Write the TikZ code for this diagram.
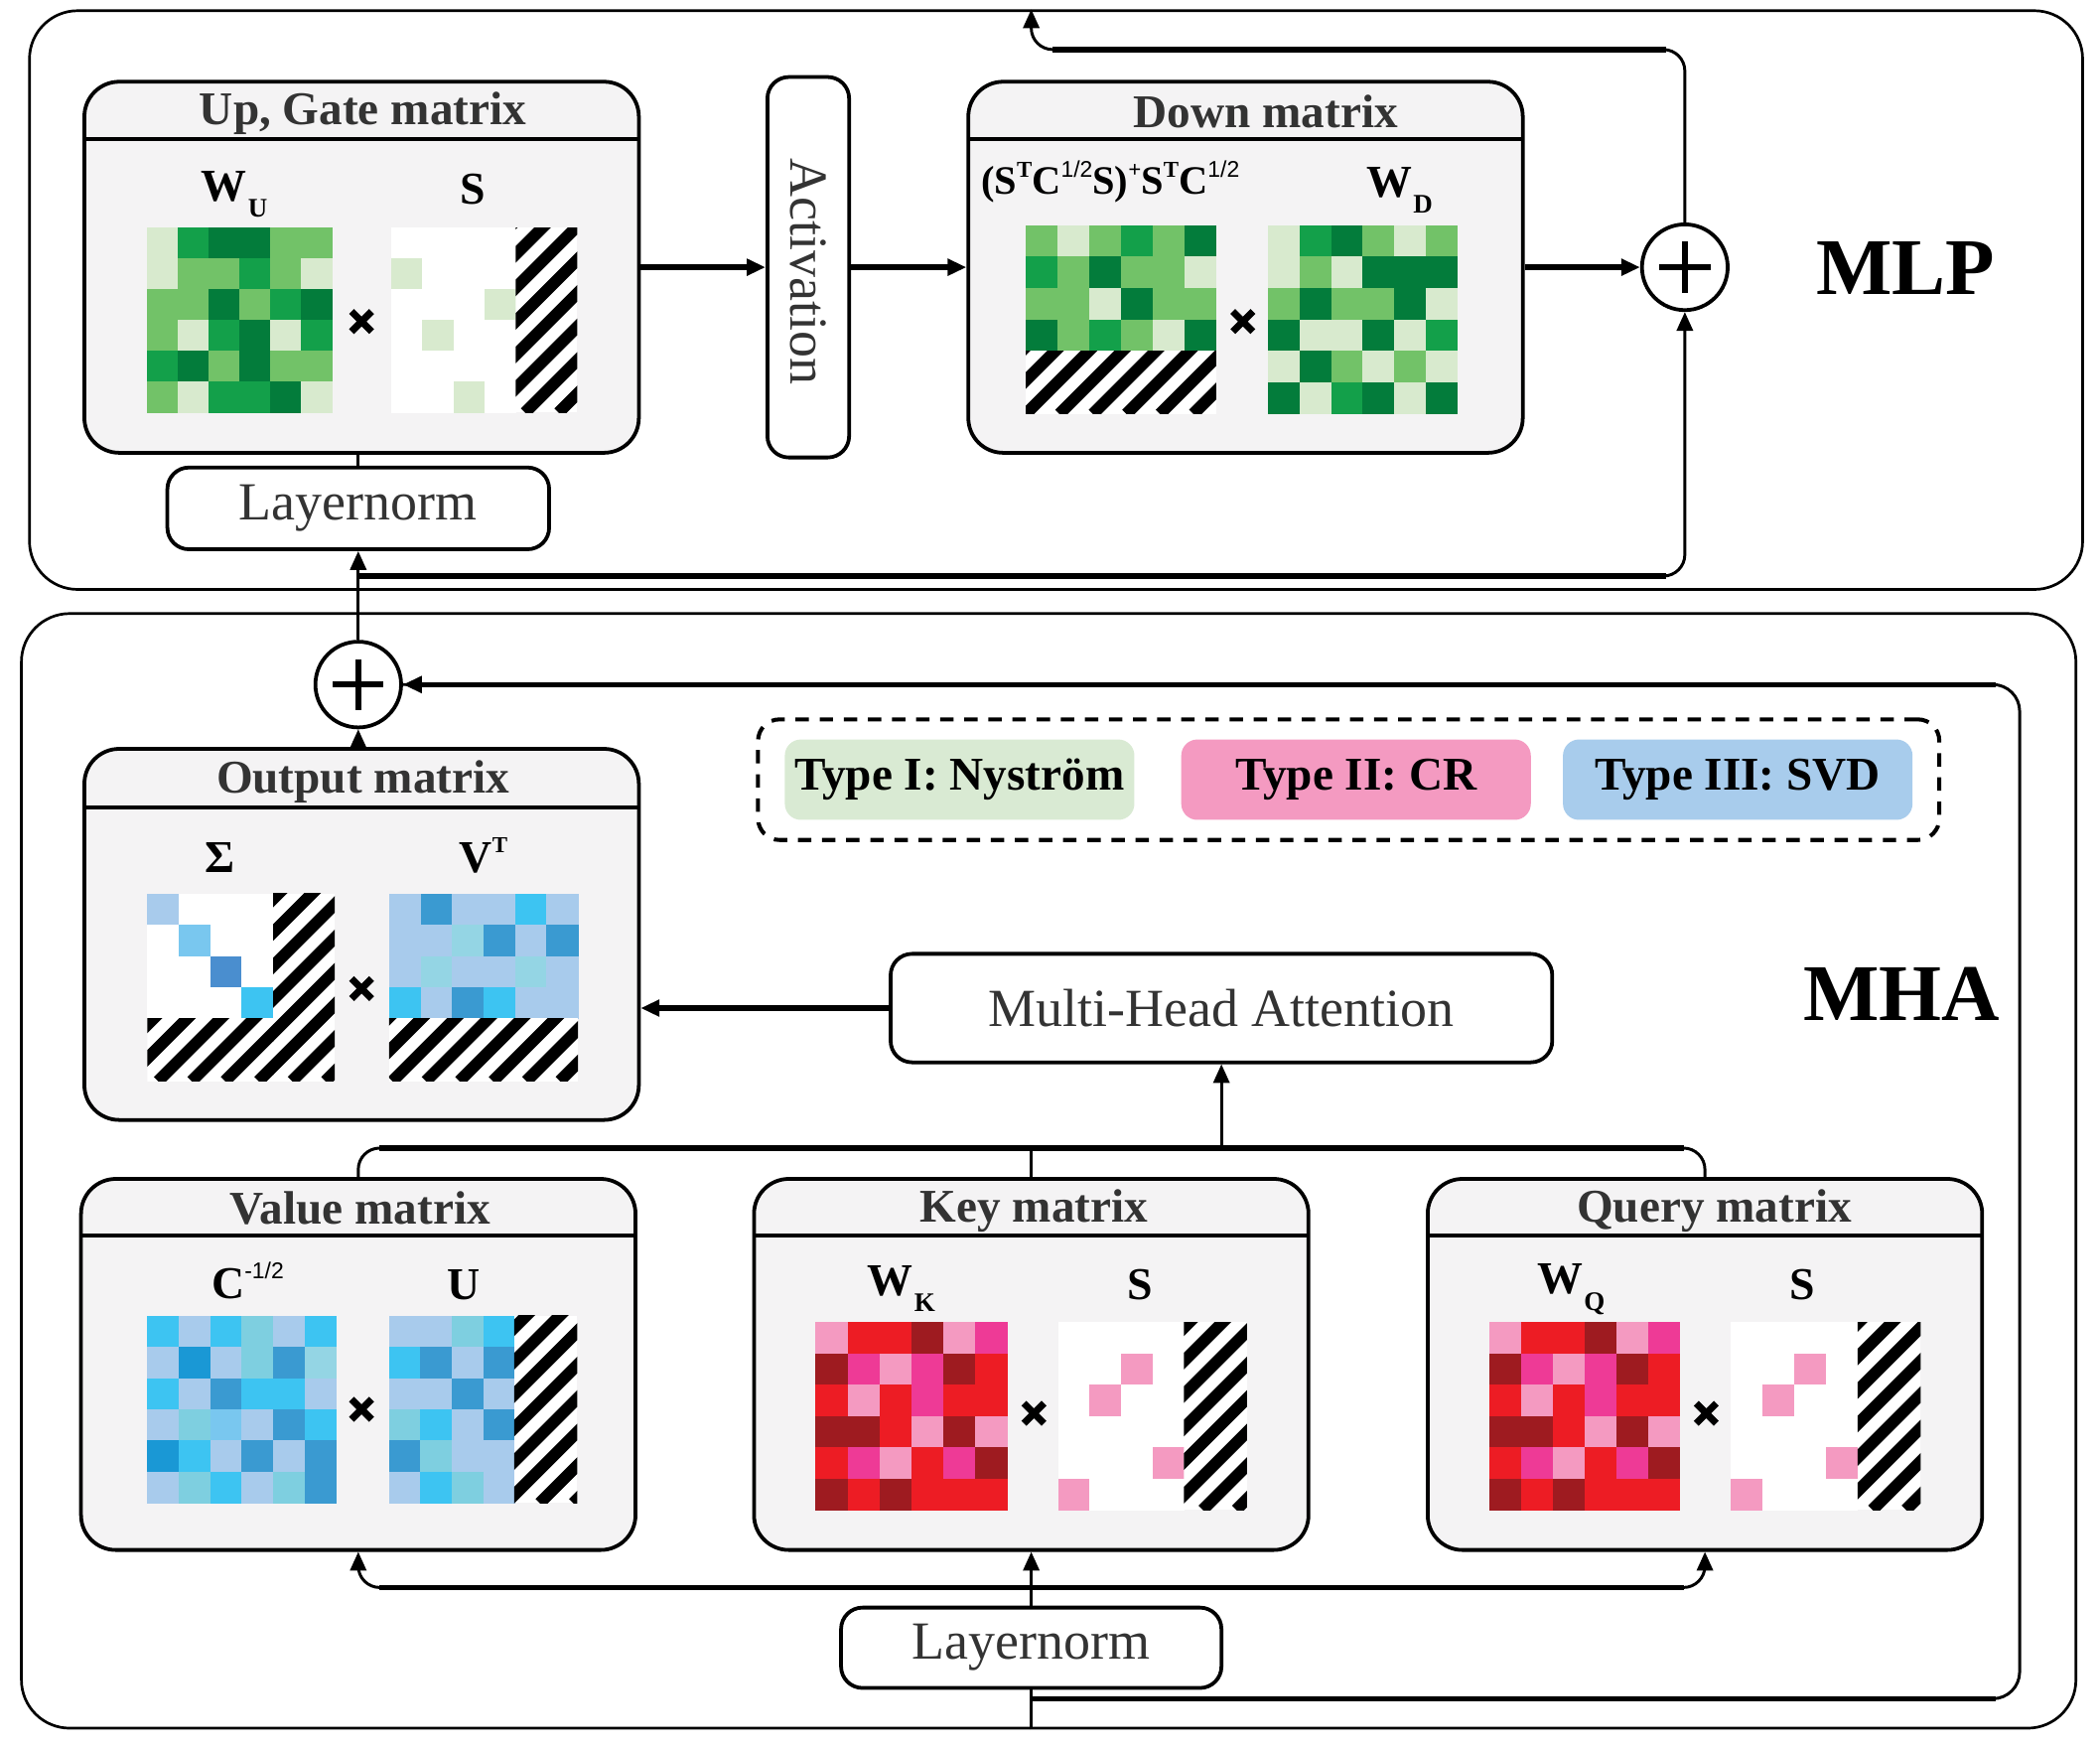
\documentclass[tikz,border=0pt]{standalone}
\usepackage{fontspec}
\setmainfont{Liberation Serif}
\newfontfamily\sansf{Liberation Sans}
\usetikzlibrary{arrows.meta,calc}

\definecolor{boxgray}{HTML}{F4F3F4}
\definecolor{txtgray}{HTML}{333333}
\definecolor{gL}{HTML}{D8EACE}
\definecolor{gM}{HTML}{72C268}
\definecolor{gG}{HTML}{13A04A}
\definecolor{gD}{HTML}{037C3B}
\definecolor{bL}{HTML}{A8CBEC}
\definecolor{bD}{HTML}{1A98D5}
\definecolor{bC}{HTML}{3DC4F2}
\definecolor{bT}{HTML}{7ECFE0}
\definecolor{bTl}{HTML}{94D5E4}
\definecolor{bM}{HTML}{3A9AD1}
\definecolor{bS}{HTML}{79C7EF}
\definecolor{bN}{HTML}{4A8ECF}
\definecolor{rP}{HTML}{F49AC1}
\definecolor{rR}{HTML}{ED1C24}
\definecolor{rD}{HTML}{9E1B20}
\definecolor{rM}{HTML}{EE3A96}
\definecolor{legG}{HTML}{D9EAD3}
\definecolor{legP}{HTML}{F49AC1}
\definecolor{legB}{HTML}{A8CCEC}

\newcommand{\mgrid}[5]{%
  \foreach \rowlist [count=\ri from 0] in {#5} {
    \foreach \cc [count=\ci from 0] in \rowlist {
      \fill[\cc] ({#1+\ci*#3},{#2+\ri*#4}) rectangle ++({#3+0.4},{#4+0.4});
    }
  }}
\newcommand{\hatchrect}[4]{%
  \begin{scope}
    \clip (#1,#2) rectangle (#3,#4);
    \fill[white] (#1,#2) rectangle (#3,#4);
    \pgfmathsetmacro{\hoff}{mod(#1+#4,25)}
    \foreach \hk in {-7,...,8} {\draw[line width=4.4pt] ({#1-\hoff+\hk*25},#4) -- ++(200,-200);}
  \end{scope}}
\newcommand{\mtimes}[2]{\draw[line width=2.6pt] ({#1-7.5},{#2-7.5}) -- ({#1+7.5},{#2+7.5}) ({#1-7.5},{#2+7.5}) -- ({#1+7.5},{#2-7.5});}
\newcommand{\msub}[1]{\kern0.5pt\raisebox{-6pt}{\fontsize{10}{10}\selectfont #1}}
\newcommand{\msup}[1]{\raisebox{0.42em}{\fontsize{8.5}{9}\selectfont #1}}
\newcommand{\mhalf}{{\sansf\mdseries 1/2}}

\tikzset{
  mbox/.style={draw, line width=1.4pt, fill=boxgray, rounded corners=13pt, minimum width=207pt, minimum height=138.5pt, inner sep=0pt},
  wbox/.style={draw, line width=1.4pt, fill=white, rounded corners=8pt, inner sep=0pt, font=\fontsize{20}{24}\selectfont, text=txtgray},
  outer/.style={draw, line width=1pt, rounded corners=18pt, inner sep=0pt},
  ttl/.style={font=\fontsize{17.5}{20}\selectfont\bfseries, text=txtgray, inner sep=0pt},
  lab/.style={font=\fontsize{17}{20}\selectfont\bfseries, inner sep=0pt},
  hconn/.style={line width=2pt},
  vconn/.style={line width=1.1pt},
  arr/.style={-{Triangle[length=7pt,width=6pt]}},
  plusc/.style={circle, draw, line width=1.4pt, fill=white, minimum size=32pt, inner sep=0pt},
  legitem/.style={rounded corners=6pt, minimum width=130.5pt, minimum height=30pt, inner sep=0pt, font=\fontsize{17.5}{20}\selectfont\bfseries},
  big/.style={font=\fontsize{30}{34}\selectfont\bfseries, inner sep=0pt},
}

\begin{document}
\begin{tikzpicture}[x=0.5pt,y=-0.5pt]
\useasboundingbox (0,0) rectangle (1568,1304);
\fill[white] (0,0) rectangle (1568,1304);

% outer frames
\node[outer, minimum width=766.5pt, minimum height=216pt] (mlp) at (788.5,224) {};
\node[outer, minimum width=767pt, minimum height=416pt] (mha) at (783,874) {};
\node[big] (tmlp) at (1423,200) {MLP};
\node[big] (tmha) at (1420,742) {MHA};

% ---------- MLP ----------
\node[mbox] (upgate) at (270,199.5) {};
\draw[line width=1.4pt] (63,104) -- (477,104);
\node[ttl,anchor=base] (tup) at (271,93) {Up, Gate matrix};
\mgrid{110}{170}{23}{23}{{gL,gG,gD,gD,gM,gM},{gL,gM,gM,gG,gM,gL},{gM,gM,gD,gM,gG,gD},{gM,gL,gG,gD,gL,gG},{gG,gD,gM,gD,gM,gM},{gM,gL,gG,gG,gD,gL}}
\mgrid{292}{170}{23.25}{23}{{white,white,white,white},{gL,white,white,white},{white,white,white,gL},{white,gL,white,white},{white,white,white,white},{white,white,gL,white}}
\hatchrect{385}{170}{431}{308}
\mtimes{270}{240}
\node[lab,anchor=base] (lwu) at (175,150) {W\msub{U}};
\node[lab,anchor=base] (lsu) at (353,152) {S};

\node[wbox, minimum width=30.5pt, minimum height=142pt] (act) at (603.5,199.5) {};
\node[rotate=-90, font=\fontsize{20}{24}\selectfont, text=txtgray, inner sep=0pt] (tact) at (603.5,203) {Activation};

\node[mbox] (down) at (930,199.5) {};
\draw[line width=1.4pt] (723,104) -- (1137,104);
\node[ttl,anchor=base] (tdown) at (945,95) {Down matrix};
\node[anchor=base, inner sep=0pt, font=\fontsize{15}{18}\selectfont\bfseries] (ldl) at (829,145) {(S\msup{T}C\msup{\mhalf}S)\msup{+}S\msup{T}C\msup{\mhalf}};
\mgrid{766}{168}{23.67}{23.5}{{gM,gL,gM,gG,gM,gD},{gG,gM,gD,gM,gM,gL},{gM,gM,gL,gD,gM,gM},{gD,gM,gG,gM,gL,gD}}
\hatchrect{766}{262}{908}{309}
\mgrid{947}{168}{23.5}{23.5}{{gL,gG,gD,gM,gL,gM},{gL,gM,gL,gD,gD,gD},{gM,gD,gM,gM,gD,gL},{gD,gL,gL,gD,gL,gG},{gL,gD,gM,gL,gM,gL},{gD,gL,gG,gD,gL,gD}}
\mtimes{928}{240}
\node[lab,anchor=base] (lwd) at (1045,147) {W\msub{D}};

\node[plusc] (plusmlp) at (1258,199.5) {};
\draw[line width=2.2pt] ([xshift=-9.5pt]plusmlp.center) -- ([xshift=9.5pt]plusmlp.center)
  ([yshift=-9.5pt]plusmlp.center) -- ([yshift=9.5pt]plusmlp.center);

\node[wbox, minimum width=142.5pt, minimum height=30.5pt] (lnmlp) at (267.5,379.5) {Layernorm};

% ---------- MHA ----------
\node[plusc] (plusmha) at (267.5,511) {};
\draw[line width=2.2pt] ([xshift=-9.5pt]plusmha.center) -- ([xshift=9.5pt]plusmha.center)
  ([yshift=-9.5pt]plusmha.center) -- ([yshift=9.5pt]plusmha.center);

\node[draw, line width=1.5pt, dash pattern=on 5pt off 4pt, rounded corners=8pt, minimum width=441pt, minimum height=45pt, inner sep=0pt] (legend) at (1007,582) {};
\node[legitem, fill=legG] (l1) at (716.5,582) {Type I: Nyström};
\node[legitem, fill=legP] (l2) at (1012.5,582) {Type II: CR};
\node[legitem, fill=legB] (l3) at (1297.5,582) {Type III: SVD};

\node[mbox] (output) at (270,697.5) {};
\draw[line width=1.4pt] (63,603) -- (477,603);
\node[ttl,anchor=base] (tout) at (271,592) {Output matrix};
\mgrid{110}{667}{23.5}{23.3}{{bL,white,white,white},{white,bS,white,white},{white,white,bN,white},{white,white,white,bC}}
\hatchrect{204}{667}{250}{807}
\hatchrect{110}{760}{204.2}{807}
\mgrid{290.5}{667}{23.5}{23.3}{{bL,bM,bL,bL,bC,bL},{bL,bL,bTl,bM,bL,bM},{bL,bTl,bL,bL,bTl,bL},{bC,bL,bM,bC,bL,bL}}
\hatchrect{290.5}{760}{431.5}{807}
\mtimes{270}{738}
\node[lab,anchor=base] (lsig) at (164,651) {Σ};
\node[lab,anchor=base] (lvt) at (361,651) {V\msup{T}};

\node[wbox, minimum width=247pt, minimum height=40.5pt] (att) at (912,752.5) {Multi-Head Attention};

\node[mbox] (value) at (267.5,1018.5) {};
\draw[line width=1.4pt] (61,922) -- (474,922);
\node[ttl,anchor=base] (tval) at (269,914) {Value matrix};
\mgrid{110}{982}{23.5}{23.33}{{bC,bL,bC,bT,bL,bC},{bL,bD,bL,bT,bM,bTl},{bC,bL,bM,bC,bC,bL},{bL,bT,bS,bL,bM,bC},{bD,bC,bL,bM,bL,bM},{bL,bT,bC,bL,bT,bM}}
\mgrid{290.5}{982}{23.4}{23.33}{{bL,bL,bT,bC},{bC,bM,bL,bM},{bL,bL,bM,bL},{bT,bC,bL,bM},{bM,bT,bL,bL},{bL,bC,bT,bL}}
\hatchrect{384}{982}{431}{1122}
\mtimes{270}{1052}
\node[lab,anchor=base] (lc) at (185,969) {C\msup{\sansf\mdseries -1/2}};
\node[lab,anchor=base] (lu) at (346,970) {U};

\node[mbox] (key) at (770,1018.5) {};
\draw[line width=1.4pt] (563,922) -- (977,922);
\node[ttl,anchor=base] (tkey) at (772,912) {Key matrix};
\mgrid{609}{987}{23.83}{23.33}{{rP,rR,rR,rD,rP,rM},{rD,rM,rP,rM,rD,rR},{rR,rP,rR,rM,rR,rR},{rD,rD,rR,rP,rD,rP},{rR,rM,rP,rR,rM,rD},{rD,rR,rD,rR,rR,rR}}
\mgrid{790}{987}{23.5}{23.33}{{white,white,white,white},{white,white,rP,white},{white,rP,white,white},{white,white,white,white},{white,white,white,rP},{rP,white,white,white}}
\hatchrect{884}{987}{931}{1127}
\mtimes{772}{1055}
\node[lab,anchor=base] (lwk) at (673,967) {W\msub{K}};
\node[lab,anchor=base] (lsk) at (851,970) {S};

\node[mbox] (query) at (1273,1018.5) {};
\draw[line width=1.4pt] (1066,922) -- (1480,922);
\node[ttl,anchor=base] (tq) at (1280,912) {Query matrix};
\mgrid{1112}{987}{23.67}{23.33}{{rP,rR,rR,rD,rP,rM},{rD,rM,rP,rM,rD,rR},{rR,rP,rR,rM,rR,rR},{rD,rD,rR,rP,rD,rP},{rR,rM,rP,rR,rM,rD},{rD,rR,rD,rR,rR,rR}}
\mgrid{1292}{987}{23.75}{23.33}{{white,white,white,white},{white,white,rP,white},{white,rP,white,white},{white,white,white,white},{white,white,white,rP},{rP,white,white,white}}
\hatchrect{1387}{987}{1434}{1127}
\mtimes{1274}{1055}
\node[lab,anchor=base] (lwq) at (1173,966) {W\msub{Q}};
\node[lab,anchor=base] (lsq) at (1346,970) {S};

\node[wbox, minimum width=142pt, minimum height=30pt] (lnmha) at (770,1230) {Layernorm};

% ---------- connectors ----------
\draw[hconn,arr] (upgate.east) -- (act.west);
\draw[hconn,arr] (act.east) -- (down.west);
\draw[hconn,arr] (down.east) -- (plusmlp.west);

\coordinate (rs) at (267.5,430);
\draw[vconn,arr] (plusmha.north) -- (lnmlp.south);
\draw[vconn] (lnmlp.north) -- (lnmlp.north |- upgate.south);
\draw[vconn,arr,rounded corners=8pt] (rs) -| (plusmlp.south);
\draw[hconn] (rs) -- (1244,430);

\coordinate (tt) at (770,37);
\draw[vconn,arr,rounded corners=8pt] (plusmlp.north) |- (tt) -- (tt |- mlp.north);
\draw[hconn] (1244,37) -- (786,37);

\draw[vconn,arr] (plusmha.south |- output.north) -- (plusmha.south);
\draw[hconn,arr] (att.west) -- (att.west -| output.east);

\coordinate (tmid) at (770,857);
\draw[vconn,rounded corners=8pt] (value.north) |- (tmid) -| (query.north);
\draw[vconn] (tmid) -- (key.north);
\draw[hconn] (283,857) -- (1257,857);
\draw[vconn,arr] (att.south |- tmid) -- (att.south);

\coordinate (bmid) at (770,1185);
\draw[vconn,arr,rounded corners=8pt] (bmid) -| (value.south);
\draw[vconn,arr,rounded corners=8pt] (bmid) -| (query.south);
\draw[hconn] (283,1185) -- (1257,1185);
\draw[vconn,arr] (lnmha.north) -- (key.south);

\draw[vconn] (lnmha.south |- mha.south) -- (lnmha.south);
\coordinate (ms) at (770,1268);
\coordinate (mc) at (1508,511);
\draw[vconn,rounded corners=10pt] (ms) -| (mc) -- (plusmha.east);
\draw[hconn] (ms) -- (1490,1268);
\draw[hconn,arr] (1490,511) -- (plusmha.east);
\end{tikzpicture}
\end{document}
